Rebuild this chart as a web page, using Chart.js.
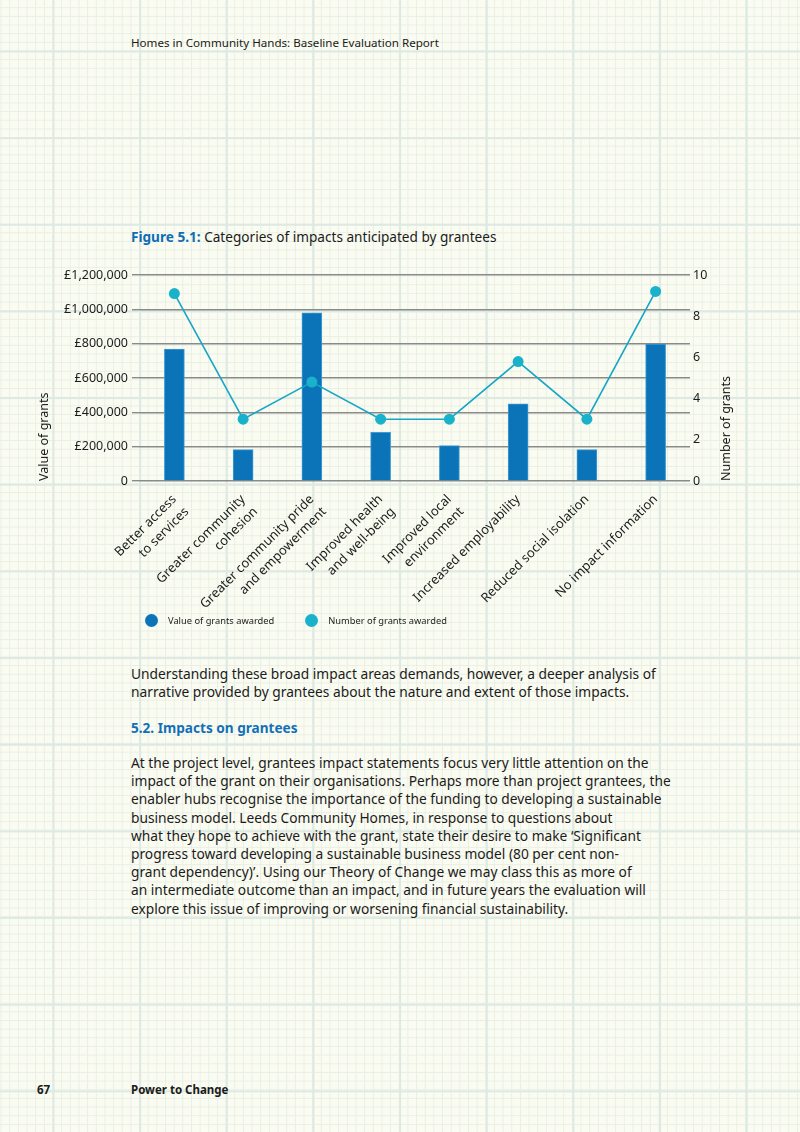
<!DOCTYPE html>
<html>
<head>
<meta charset="utf-8">
<script src="https://cdn.jsdelivr.net/npm/chart.js@4.4.1/dist/chart.umd.min.js"></script>
<style>
html, body { margin: 0; padding: 0; }
body {
  width: 800px; height: 1132px; position: relative; overflow: hidden;
  font-family: "Noto Sans", sans-serif; color: #1b1b1b;
  background-color: #fbfcf1;
  background-image:
    linear-gradient(to right, #dde9e3 2px, transparent 2px),
    linear-gradient(to bottom, #dde9e3 2px, transparent 2px),
    linear-gradient(to right, #e9efe5 1px, transparent 1px),
    linear-gradient(to bottom, #e9efe5 1px, transparent 1px);
  background-size: 86.67px 86.67px, 86.67px 86.67px, 8.667px 8.667px, 8.667px 8.667px;
  background-position: 52.5px 50.5px;
}
.abs { position: absolute; white-space: nowrap; }
.header { left: 131px; top: 35px; font-size: 11.6px; }
.figtitle { left: 131px; top: 227px; font-size: 13.6px; }
.figtitle b { color: #0f6db4; }
.axtitle { font-size: 12.5px; transform-origin: left top; transform: rotate(-90deg); line-height: 16px; }
.body { left: 131px; font-size: 13.75px; line-height: 18.2px; }
.h2 { left: 131px; top: 718px; font-size: 13.6px; font-weight: bold; color: #1370b8; }
.foot { top: 1082px; font-size: 11.5px; font-weight: bold; }
#chart { position: absolute; left: 0; top: 255px; }
#legend { position: absolute; left: 145px; top: 614px; display: flex; gap: 31px; font-size: 9.3px; color: #222; }
#legend .item { display: flex; align-items: center; }
#legend .dot { width: 13px; height: 13px; border-radius: 50%; margin-right: 10px; }
</style>
</head>
<body>
<div class="abs header">Homes in Community Hands: Baseline Evaluation Report</div>
<div class="abs figtitle"><b>Figure 5.1:</b> Categories of impacts anticipated by grantees</div>

<canvas id="chart" width="800" height="385"></canvas>
<div class="abs axtitle" style="left:36px; top:481px;">Value of grants</div>
<div class="abs axtitle" style="left:718px; top:481px;">Number of grants</div>
<div id="legend"></div>

<div class="abs body" style="top:665px;">Understanding these broad impact areas demands, however, a deeper analysis of<br>narrative provided by grantees about the nature and extent of those impacts.</div>
<div class="abs h2">5.2. Impacts on grantees</div>
<div class="abs body" style="top:754px;">At the project level, grantees impact statements focus very little attention on the<br>impact of the grant on their organisations. Perhaps more than project grantees, the<br>enabler hubs recognise the importance of the funding to developing a sustainable<br>business model. Leeds Community Homes, in response to questions about<br>what they hope to achieve with the grant, state their desire to make ‘Significant<br>progress toward developing a sustainable business model (80 per cent non-<br>grant dependency)’. Using our Theory of Change we may class this as more of<br>an intermediate outcome than an impact, and in future years the evaluation will<br>explore this issue of improving or worsening financial sustainability.</div>

<div class="abs foot" style="left:37px;">67</div>
<div class="abs foot" style="left:131px;">Power to Change</div>

<script>
const categories = [
  ['Better access', 'to services'],
  ['Greater community', 'cohesion'],
  ['Greater community pride', 'and empowerment'],
  ['Improved health', 'and well-being'],
  ['Improved local', 'environment'],
  ['Increased employability'],
  ['Reduced social isolation'],
  ['No impact information']
];
// value of grants awarded (GBP)
const grantValues = [768000, 183000, 980000, 284000, 207000, 449000, 183000, 797000];
// number of grants awarded
const grantCounts = [9.1, 3, 4.8, 3, 3, 5.8, 3, 9.2];

const valueMax = 1200000;
const valueStep = 200000;
const countMax = 10;
const countStep = 2;

const fontFamily = '"Noto Sans", sans-serif';

function poundLabel(v) {
  if (v === 0) return '0';
  return '£' + v.toLocaleString('en-GB');
}

const data = {
  labels: categories,
  datasets: [{
    type: 'bar',
    label: 'Value of grants awarded',
    data: grantValues,
    yAxisID: 'y',
    backgroundColor: '#0b74b8',
    borderColor: '#3f9ad2',
    borderWidth: 1,
    barThickness: 20,
    order: 2
  }, {
    type: 'line',
    label: 'Number of grants awarded',
    data: grantCounts,
    yAxisID: 'y1',
    borderColor: '#17a6c5',
    backgroundColor: '#1ab2ca',
    borderWidth: 1.6,
    pointRadius: 5.5,
    pointBorderWidth: 0,
    pointBackgroundColor: '#1ab2ca',
    tension: 0,
    order: 1
  }]
};

const config = {
  data: data,
  options: {
    responsive: false,
    animation: false,
    layout: { padding: { left: 0, top: 20, right: 0, bottom: 12 } },
    plugins: {
      tooltip: { enabled: false },
      legend: { display: false }
    },
    scales: {
      x: {
        grid: { display: false, drawTicks: false },
        border: { display: false },
        ticks: {
          autoSkip: false,
          maxRotation: 45,
          minRotation: 45,
          padding: 10,
          color: '#1b1b1b',
          font: { family: fontFamily, size: 13, lineHeight: 1.35 }
        },
        afterFit: (scale) => { scale.height = 147; }
      },
      y: {
        position: 'left',
        min: 0,
        max: valueMax,
        ticks: {
          stepSize: valueStep,
          callback: poundLabel,
          padding: 4,
          color: '#1b1b1b',
          font: { family: fontFamily, size: 12.5 }
        },
        grid: { color: '#8a8a8a', lineWidth: 1.4, tickLength: 8 },
        border: { display: false },
        afterFit: (scale) => { scale.width = 140; }
      },
      y1: {
        position: 'right',
        min: 0,
        max: countMax,
        ticks: {
          stepSize: countStep,
          padding: 3,
          color: '#1b1b1b',
          font: { family: fontFamily, size: 12.5 }
        },
        grid: { display: false, drawOnChartArea: false, drawTicks: false },
        border: { display: false },
        afterFit: (scale) => { scale.width = 110; }
      }
    }
  }
};

const myChart = new Chart(document.getElementById('chart'), config);

// legend from the datasets
const legendEl = document.getElementById('legend');
myChart.data.datasets.forEach(ds => {
  const item = document.createElement('div');
  item.className = 'item';
  const dot = document.createElement('span');
  dot.className = 'dot';
  dot.style.background = ds.backgroundColor;
  const txt = document.createElement('span');
  txt.textContent = ds.label;
  item.appendChild(dot);
  item.appendChild(txt);
  legendEl.appendChild(item);
});
</script>
</body>
</html>
